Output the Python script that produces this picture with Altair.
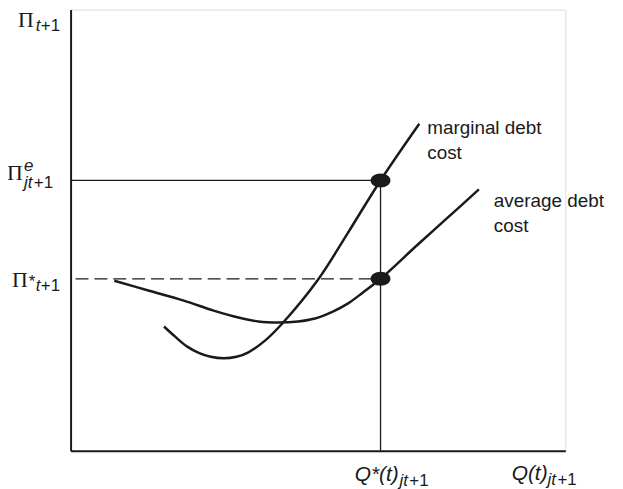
import altair as alt
import pandas as pd

# ---- data (chart units: x 0..498, y 0..444) ----
mc_x = [94, 105, 117, 129, 141, 154, 167, 179, 196, 214, 249, 279, 312, 351]
mc_y = [125, 115, 105, 98.5, 94.5, 93, 94.5, 99, 111, 129, 172, 219, 272, 329]

ac_x = [44, 79, 114, 144, 169, 189, 209, 229, 246, 264, 279, 294, 312, 349, 379, 411]
ac_y = [171, 161, 151, 141, 134, 130, 129, 130, 133, 140, 148, 159, 173, 207, 234, 263]

q_star = 312
pi_e = 272
pi_star = 173
dash_start = 5

X_MAX = 498
Y_MAX = 444
INK = "#1a1a1a"

# ---- label annotations ----
serif_lbl = pd.DataFrame({"x": [-53, -64, -59], "y": [426, 272, 165], "t": ["Π", "Π", "Π"]})
ital_sub = pd.DataFrame({
    "x": [-35, -47, -47, -35, 331, 480],
    "y": [422, 282, 264, 161, -36, -35],
    "t": ["t", "e", "jt", "t", "jt", "jt"],
})
ital_main = pd.DataFrame({"x": [286, 444], "y": [-31, -30], "t": ["Q*(t)", "Q(t)"]})
up_sub = pd.DataFrame({
    "x": [-30, -37, -30, 341, 490, -42],
    "y": [422, 264, 161, -36, -35, 165],
    "t": ["+1", "+1", "+1", "+1", "+1", "*"],
})
curve_lbl = pd.DataFrame({
    "x": [359, 359, 426, 426],
    "y": [319, 294, 245, 220],
    "t": ["marginal debt", "cost", "average debt", "cost"],
})

xs = alt.Scale(domain=[0, X_MAX], nice=False, zero=False)
ys = alt.Scale(domain=[0, Y_MAX], nice=False, zero=False)
ax_x = alt.Axis(domain=True, domainWidth=2, domainColor=INK, ticks=False, labels=False, grid=False, title=None)
ax_y = alt.Axis(domain=True, domainWidth=2, domainColor=INK, ticks=False, labels=False, grid=False, title=None)

mc = pd.DataFrame({"x": mc_x, "y": mc_y})
ac = pd.DataFrame({"x": ac_x, "y": ac_y})

base_axes = alt.Chart(pd.DataFrame({"x": [0], "y": [0]})).mark_point(opacity=0).encode(
    x=alt.X("x:Q", scale=xs, axis=ax_x),
    y=alt.Y("y:Q", scale=ys, axis=ax_y),
)

marg = alt.Chart(mc).mark_line(color=INK, strokeWidth=2.5, interpolate="catmull-rom").encode(
    x=alt.X("x:Q", scale=xs), y=alt.Y("y:Q", scale=ys)
)
avg = alt.Chart(ac).mark_line(color=INK, strokeWidth=2.5, interpolate="catmull-rom").encode(
    x=alt.X("x:Q", scale=xs), y=alt.Y("y:Q", scale=ys)
)

h_e = alt.Chart(pd.DataFrame({"x": [0], "x2": [q_star], "y": [pi_e]})).mark_rule(color=INK, strokeWidth=1.3).encode(
    x=alt.X("x:Q", scale=xs), x2="x2:Q", y=alt.Y("y:Q", scale=ys)
)
h_star = alt.Chart(pd.DataFrame({"x": [dash_start], "x2": [q_star], "y": [pi_star]})).mark_rule(
    color=INK, strokeWidth=1.3, strokeDash=[13, 6]
).encode(x=alt.X("x:Q", scale=xs), x2="x2:Q", y=alt.Y("y:Q", scale=ys))
v_q = alt.Chart(pd.DataFrame({"x": [q_star], "y": [0], "y2": [pi_e]})).mark_rule(color=INK, strokeWidth=1.3).encode(
    x=alt.X("x:Q", scale=xs), y=alt.Y("y:Q", scale=ys), y2="y2:Q"
)

ellipse = "M -1 0 A 1 0.7 0 1 0 1 0 A 1 0.7 0 1 0 -1 0 Z"
dots = alt.Chart(pd.DataFrame({"x": [q_star, q_star], "y": [pi_e, pi_star]})).mark_point(
    shape=ellipse, filled=True, color=INK, size=400, opacity=1
).encode(x=alt.X("x:Q", scale=xs), y=alt.Y("y:Q", scale=ys))


def txt(df, font, size, style="normal"):
    return alt.Chart(df).mark_text(
        font=font, fontSize=size, fontStyle=style, align="left", baseline="alphabetic", color=INK
    ).encode(x=alt.X("x:Q", scale=xs), y=alt.Y("y:Q", scale=ys), text="t:N")


labels = [
    txt(serif_lbl, "Liberation Serif", 22),
    txt(ital_sub, "Liberation Sans", 17, "italic"),
    txt(ital_main, "Liberation Sans", 21, "italic"),
    txt(up_sub, "Liberation Sans", 17),
    txt(curve_lbl, "Liberation Sans", 19),
]

chart = alt.layer(base_axes, h_e, h_star, v_q, marg, avg, dots, *labels).properties(
    width=X_MAX,
    height=Y_MAX,
    autosize=alt.AutoSizeParams(type="none"),
    padding={"left": 63, "top": 0, "right": 50, "bottom": 37},
).configure_view(stroke=None).configure(background="white")

chart.save("out.html", embed_options={"renderer": "svg", "actions": False})
